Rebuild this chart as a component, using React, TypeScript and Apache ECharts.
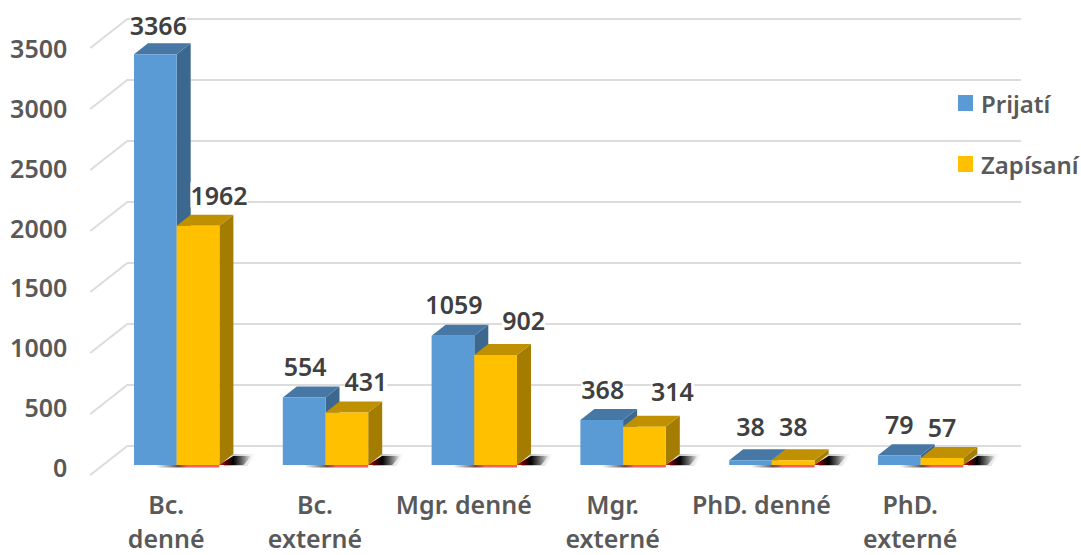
import React, { useEffect, useRef } from "react";
import * as echarts from "echarts";

const categories = ["Bc.\ndenné", "Bc.\nexterné", "Mgr. denné", "Mgr.\nexterné", "PhD. denné", "PhD.\nexterné"];
const prijati = [3366, 554, 1059, 368, 38, 79];
const zapisani = [1962, 431, 902, 314, 38, 57];
const ticks = [0, 500, 1000, 1500, 2000, 2500, 3000, 3500];
// hand-placed data label nudges, as in the source chart [dx, dy] from the bar's front top centre
const prijatiNudge = [[3, -29], [1, -31], [1, -32], [1, -31], [0, -34], [0, -31]];
const zapisaniNudge = [[21, -31], [19, -31], [28, -35], [28, -36], [0, -34], [0, -31]];

const FONT = '"Noto Sans", sans-serif';
const DEPTH_X = 14;
const DEPTH_Y = 11;
const BAR_RATIO = 0.287;

function barRenderer(offsetSign: number, colors: { front: string; top: string; side: string }, nudges: number[][], castShadow: boolean) {
  return (params: any, api: any) => {
    const i = api.value(0);
    const v = api.value(1);
    const [cx, y0] = api.coord([i, 0]);
    const [, y1] = api.coord([i, v]);
    const w = api.size([1, 0])[0] * BAR_RATIO;
    const x0 = offsetSign < 0 ? cx - w : cx;
    const x1 = x0 + w;
    const children: any[] = [];
    if (castShadow) {
      const softFill = new echarts.graphic.LinearGradient(0, 0, 1, 0, [
        { offset: 0, color: "rgba(0,0,0,0.35)" },
        { offset: 1, color: "rgba(0,0,0,0)" },
      ]);
      children.push({
        type: "polygon",
        shape: { points: [[x1 + 4, y0 + 1], [x1 + DEPTH_X, y0 - DEPTH_Y], [x1 + DEPTH_X + 22, y0 - DEPTH_Y], [x1 + 28, y0 + 1]] },
        style: { fill: softFill },
      });
      children.push({
        type: "polygon",
        shape: { points: [[x1 - 1, y0], [x1 + DEPTH_X, y0 - DEPTH_Y + 2], [x1 + DEPTH_X + 18, y0 - DEPTH_Y + 2], [x1 + 24, y0]] },
        style: {
          fill: new echarts.graphic.LinearGradient(0, 0, 1, 0, [
            { offset: 0, color: "#e0202a" },
            { offset: 0.22, color: "#600008" },
            { offset: 0.45, color: "#000000" },
            { offset: 1, color: "rgba(0,0,0,0)" },
          ]),
        },
      });
      children.push({
        type: "rect",
        shape: { x: x0 - w * 0.5, y: y0, width: w * 1.5, height: 2.5 },
        style: {
          fill: new echarts.graphic.LinearGradient(0, 0, 1, 0, [
            { offset: 0, color: "rgba(40,40,40,0)" },
            { offset: 0.35, color: "rgba(60,20,20,0.75)" },
            { offset: 0.5, color: "#f0606a" },
            { offset: 1, color: "#f0606a" },
          ]),
        },
      });
    }
    children.push({
      type: "polygon",
      shape: { points: [[x1, y0], [x1 + DEPTH_X, y0 - DEPTH_Y], [x1 + DEPTH_X, y1 - DEPTH_Y], [x1, y1]] },
      style: { fill: colors.side },
    });
    children.push({
      type: "polygon",
      shape: { points: [[x0, y1], [x0 + DEPTH_X, y1 - DEPTH_Y], [x1 + DEPTH_X, y1 - DEPTH_Y], [x1, y1]] },
      style: { fill: colors.top },
    });
    children.push({
      type: "rect",
      shape: { x: x0, y: y1, width: w, height: y0 - y1 },
      style: { fill: colors.front },
    });
    const n = nudges[i];
    children.push({
      type: "text",
      style: {
        text: String(v),
        x: (x0 + x1) / 2 + n[0],
        y: y1 + n[1],
        align: "center",
        verticalAlign: "middle",
        fill: "#404040",
        fontFamily: FONT,
        fontSize: 25,
        fontWeight: 600,
        backgroundColor: "#ffffff",
      },
    });
    return { type: "group", children };
  };
}

function gridRenderer(params: any, api: any) {
  const y = api.coord([0, api.value(1)])[1];
  const c = params.coordSys;
  return {
    type: "polyline",
    shape: { points: [[c.x - 12, y + 10], [c.x + 25, y - 19], [c.x + c.width + 26, y - 19]] },
    style: { stroke: "#dcdcdc", lineWidth: 2, fill: "none" },
  };
}

export default function App() {
  const ref = useRef<HTMLDivElement>(null);
  useEffect(() => {
    const chart = echarts.init(ref.current!, null, { renderer: "svg" });
    const labelStyle = { color: "#595959", fontFamily: FONT, fontSize: 25, fontWeight: 600 };
    chart.setOption({
      animation: false,
      backgroundColor: "#ffffff",
      grid: [
        { left: 102.3, top: 38, width: 892.8, height: 427 },
        { left: 91.8, top: 48, width: 892.8, height: 429 },
      ],
      xAxis: [
        { type: "category", gridIndex: 0, data: categories, axisLine: { show: false }, axisTick: { show: false }, axisLabel: { show: false } },
        {
          type: "category",
          gridIndex: 1,
          data: categories,
          axisLine: { show: false },
          axisTick: { show: false },
          axisLabel: { ...labelStyle, margin: 20, lineHeight: 34, interval: 0 },
        },
      ],
      yAxis: [
        { type: "value", gridIndex: 0, min: 0, max: 3500, interval: 500, axisLine: { show: false }, axisTick: { show: false }, axisLabel: { show: false }, splitLine: { show: false } },
        {
          type: "value",
          gridIndex: 1,
          min: 0,
          max: 3500,
          interval: 500,
          axisLine: { show: false },
          axisTick: { show: false },
          splitLine: { show: false },
          axisLabel: { ...labelStyle, margin: 24.5, formatter: (v: number) => String(v) },
        },
      ],
      legend: {
        orient: "vertical",
        left: 953,
        top: 85,
        itemWidth: 15,
        itemHeight: 16,
        itemGap: 35,
        icon: "rect",
        data: ["Prijatí", "Zapísaní"],
        textStyle: { color: "#595959", fontFamily: FONT, fontSize: 24, fontWeight: 600, lineHeight: 26, padding: [0, 0, 0, 3] },
        formatter: (n: string) => n,
      },
      series: [
        {
          type: "custom",
          name: "grid",
          silent: true,
          z: 1,
          xAxisIndex: 0,
          yAxisIndex: 0,
          renderItem: gridRenderer,
          data: ticks.map((t) => [0, t]),
          encode: { x: 0, y: 1 },
        },
        {
          type: "custom",
          name: "Prijatí",
          z: 2,
          xAxisIndex: 0,
          yAxisIndex: 0,
          itemStyle: { color: "#5B9BD5" },
          renderItem: barRenderer(-1, { front: "#5B9BD5", top: "#4677A5", side: "#3C6890" }, prijatiNudge, false),
          data: prijati.map((v, i) => [i, v]),
          encode: { x: 0, y: 1 },
        },
        {
          type: "custom",
          name: "Zapísaní",
          z: 3,
          xAxisIndex: 0,
          yAxisIndex: 0,
          itemStyle: { color: "#FFC000" },
          renderItem: barRenderer(1, { front: "#FFC000", top: "#BF9000", side: "#A47C00" }, zapisaniNudge, true),
          data: zapisani.map((v, i) => [i, v]),
          encode: { x: 0, y: 1 },
        },
      ],
    });
    return () => chart.dispose();
  }, []);
  return <div ref={ref} style={{ position: "absolute", left: 0, top: 0, width: 1081, height: 555 }} />;
}
